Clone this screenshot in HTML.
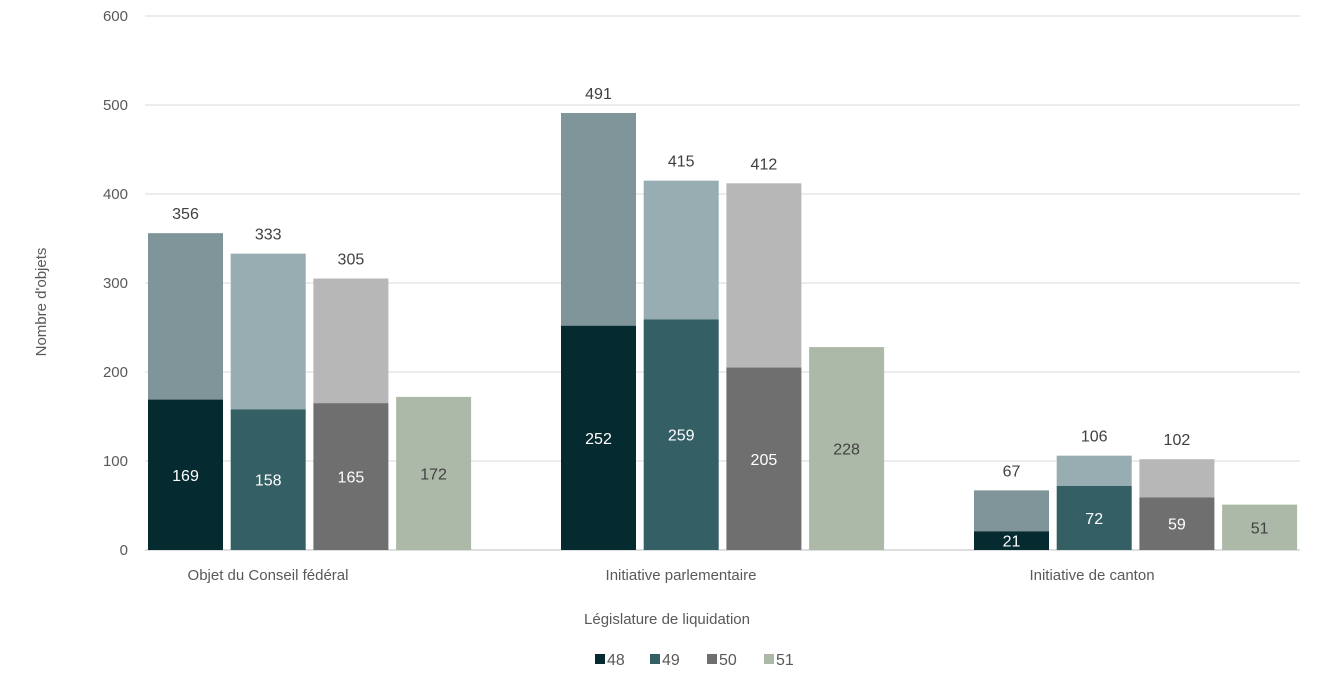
<!DOCTYPE html>
<html><head><meta charset="utf-8"><style>
body{margin:0;background:#fff;font-family:"Liberation Sans",sans-serif;}
svg text{font-family:"Liberation Sans",sans-serif;}
</style></head><body>
<svg id="c" width="1320" height="672"></svg>
<script>
const categories=["Objet du Conseil fédéral","Initiative parlementaire","Initiative de canton"];
const series=["48","49","50","51"];
const bottomVals=[[169,158,165,172],[252,259,205,228],[21,72,59,51]];
const totalVals=[[356,333,305,172],[491,415,412,228],[67,106,102,51]];
const yTicks=[0,100,200,300,400,500,600];
const darkCol=["#052a30","#335f65","#6f6f6f","#adb9a8"];
const lightCol=["#80959a","#97adb1","#b7b7b7","#adb9a8"];
const NS="http://www.w3.org/2000/svg";
const svg=document.getElementById('c');
const y=v=>550-v*0.89;
const barX=(g,i)=>148+g*413+i*82.7;
const BW=75;
function mk(t,a,txt){const e=document.createElementNS(NS,t);for(const k in a)e.setAttribute(k,a[k]);if(txt!=null)e.textContent=txt;svg.appendChild(e);return e;}
yTicks.forEach(t=>{
 let l=mk('line',{x1:145,x2:1300,y1:y(t),y2:y(t),stroke:t===0?'#bfbfbf':'#d9d9d9','stroke-width':1});
 
 
 let tx=mk('text',{x:128,y:y(t)+5,'text-anchor':'end','font-size':15,fill:'#595959'},t);
 
 
});
const catX=[268,681,1092];
categories.forEach((c,g)=>{
 let tx=mk('text',{x:catX[g],y:580,'text-anchor':'middle','font-size':15,fill:'#595959'},c);
 
 
 series.forEach((s,i)=>{
  const x=barX(g,i),b=bottomVals[g][i],t=totalVals[g][i];
  if(t>b){let r=mk('rect',{x:x,y:y(t),width:BW,height:y(b)-y(t),fill:lightCol[i]});
   
   }
  let r2=mk('rect',{x:x,y:y(b),width:BW,height:y(0)-y(b),fill:darkCol[i]});
  
  
  let l1=mk('text',{x:x+BW/2,y:(y(b)+y(0))/2+6,'text-anchor':'middle','font-size':16,fill:i===3?'#404040':'#fff'},b);
  
  
  if(t>b){let l2=mk('text',{x:x+BW/2,y:y(t)-14,'text-anchor':'middle','font-size':16,fill:'#404040'},t);
   
   }
 });
});
let yt=mk('text',{x:46,y:302,'text-anchor':'middle','font-size':15,fill:'#595959',transform:'rotate(-90 46 302)'},"Nombre d'objets");


let xt=mk('text',{x:667,y:624,'text-anchor':'middle','font-size':15,fill:'#595959'},"Législature de liquidation");


const legX=[595,650,707,764];
series.forEach((s,i)=>{
 let r=mk('rect',{x:legX[i],y:654,width:10,height:10,fill:darkCol[i]});
 
 
 let t=mk('text',{x:legX[i]+12,y:665,'font-size':16,fill:'#595959'},s);
 
 
});
</script>
</body></html>
